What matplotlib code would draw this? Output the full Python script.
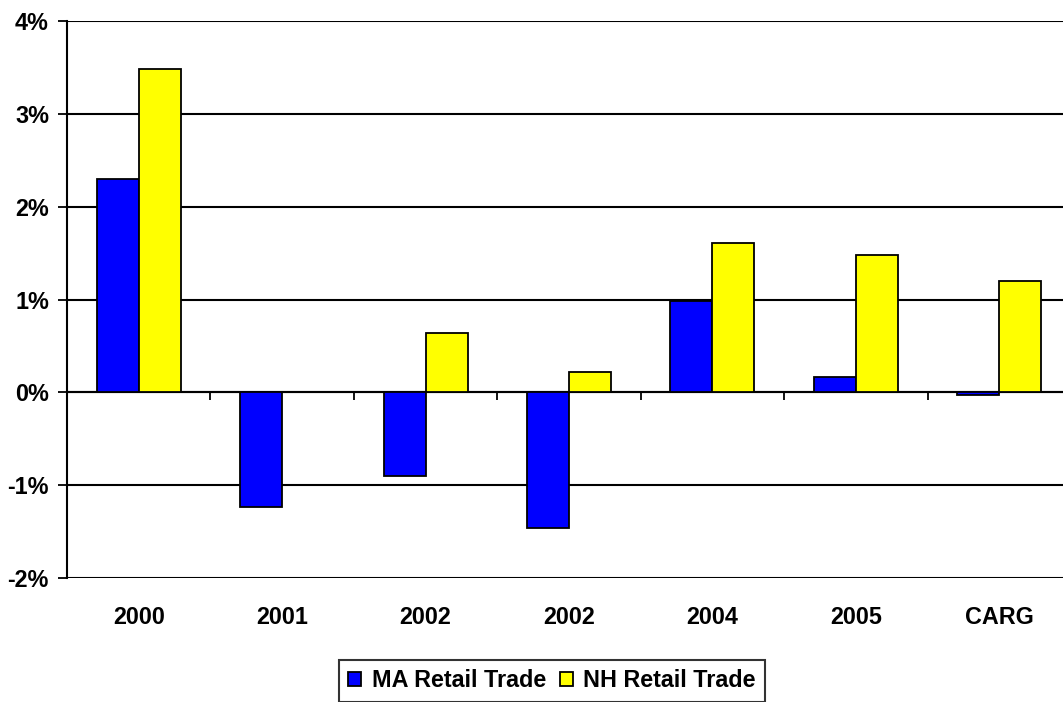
import numpy as np
import matplotlib
matplotlib.use("Agg")
import matplotlib.pyplot as plt
from matplotlib.ticker import FuncFormatter


categories = ["2000", "2001", "2002", "2002", "2004", "2005", "CARG"]
ma_retail = [2.30, -1.24, -0.90, -1.46, 0.98, 0.17, -0.03]
nh_retail = [3.48, 0.0, 0.64, 0.22, 1.61, 1.48, 1.20]
series_names = ["MA Retail Trade", "NH Retail Trade"]

plt.rcParams['font.family'] = ['Liberation Sans', 'DejaVu Sans']
plt.rcParams['font.weight'] = 'bold'
fs = 16.8

fig = plt.figure(figsize=(10.63, 7.02), dpi=100)
ax = fig.add_axes([67 / 1063, 1 - 578 / 702, (1071 - 67) / 1063, (578 - 21) / 702])

x = np.arange(len(categories))
w = 0.293
ax.bar(x - w / 2, ma_retail, w, color='#0000FF', edgecolor='black', linewidth=1.3,
       label=series_names[0], zorder=3)
ax.bar(x + w / 2, nh_retail, w, color='#FFFF00', edgecolor='black', linewidth=1.3,
       label=series_names[1], zorder=3)

ax.set_xlim(-0.5, len(categories) - 0.5)
ax.set_ylim(-2, 4)
ax.set_yticks(range(-2, 5))
ax.yaxis.set_major_formatter(FuncFormatter(lambda v, p: f"{v:.0f}%"))
ax.yaxis.grid(True, color='black', linewidth=1.5)
ax.set_axisbelow(True)

ax.set_xticks(x, categories)
ax.tick_params(axis='x', length=0, pad=20, labelsize=fs)
ax.tick_params(axis='y', direction='out', length=6.5, width=1.3, pad=6.5, labelsize=fs)

for s in ['top', 'right', 'bottom']:
    ax.spines[s].set_visible(False)
ax.spines['left'].set_linewidth(1.5)

# zero line with tick marks between categories
secax = ax.secondary_xaxis(1 / 3)
secax.set_xticks(x[:-1] + 0.5)
secax.xaxis.set_ticks_position('bottom')
secax.tick_params(axis='x', direction='out', length=6, width=1.3,
                  labelbottom=False, labeltop=False)
for s in ['top', 'left', 'right']:
    secax.spines[s].set_visible(False)
secax.spines['bottom'].set_linewidth(1.5)

leg = fig.legend(loc='upper center', bbox_to_anchor=(552 / 1063, 1 - 660 / 702),
                 ncol=2, frameon=True, fancybox=False, borderaxespad=0,
                 handlelength=0.55, handleheight=0.55, handletextpad=0.45,
                 columnspacing=0.6, fontsize=fs, borderpad=0.4)
leg.get_frame().set_edgecolor('black')
leg.get_frame().set_linewidth(1.5)

fig.savefig("out.png", dpi=100)
